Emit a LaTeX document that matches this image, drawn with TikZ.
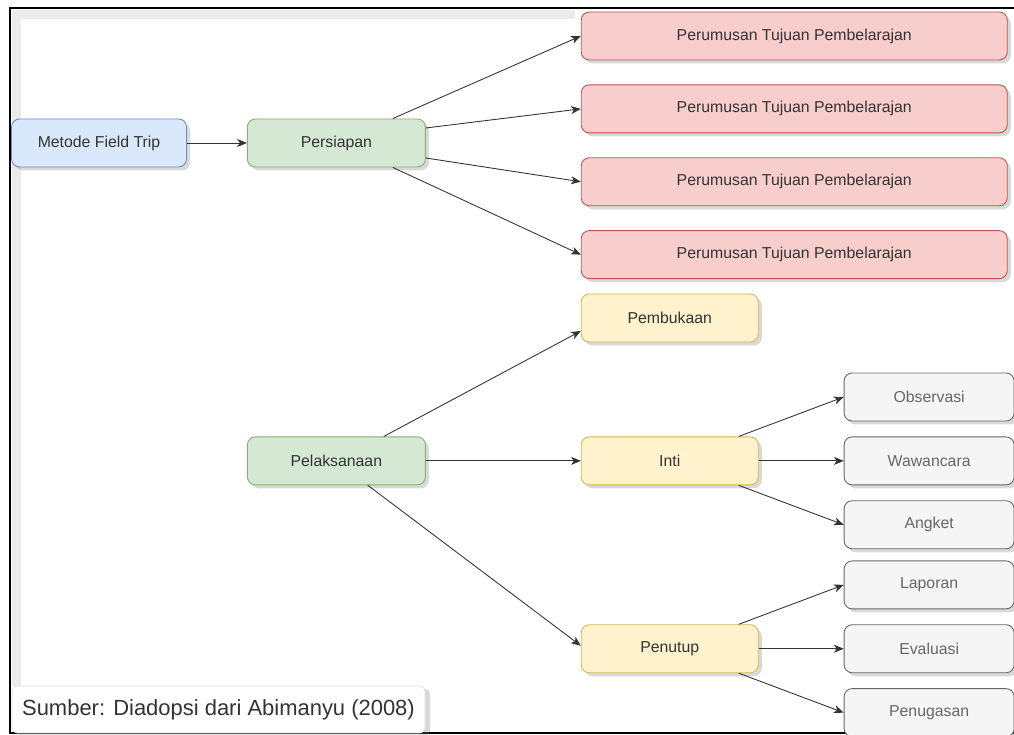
\documentclass[tikz,border=0pt]{standalone}
\usepackage{fontspec}
\setmainfont{Liberation Sans}
\usetikzlibrary{shapes,shadows,arrows.meta,positioning}
\definecolor{blueFill}{HTML}{DAE8FC}
\definecolor{blueLine}{HTML}{6C8EBF}
\definecolor{greenFill}{HTML}{D5E8D4}
\definecolor{greenLine}{HTML}{82B366}
\definecolor{redFill}{HTML}{F8CECC}
\definecolor{redLine}{HTML}{B85450}
\definecolor{yellowFill}{HTML}{FFF2CC}
\definecolor{yellowLine}{HTML}{D6B656}
\definecolor{greyFill}{HTML}{F5F5F5}
\definecolor{greyLine}{HTML}{666666}
\definecolor{textGrey}{HTML}{333333}
\tikzstyle{box} = [rectangle, rounded corners=0.16cm, minimum height=0.96cm, text centered, line width=0.5pt, text=textGrey, font=\fontsize{9}{11}\selectfont, drop shadow={shadow xshift=0.07cm, shadow yshift=-0.07cm, opacity=0.3}]
\tikzstyle{methodBox} = [box, minimum width=3.5cm, draw=blueLine, fill=blueFill]
\tikzstyle{phaseBox} = [box, minimum width=3.56cm, draw=greenLine, fill=greenFill]
\tikzstyle{goalBox} = [box, minimum width=8.52cm, draw=redLine, fill=redFill]
\tikzstyle{stageBox} = [box, minimum width=3.54cm, draw=yellowLine, fill=yellowFill]
\tikzstyle{activityBox} = [box, minimum width=3.4cm, draw=greyLine, fill=greyFill, text=greyLine]
\tikzstyle{sourceBox} = [rectangle, rounded corners=0.1cm, minimum width=8.26cm, minimum height=0.94cm, draw=gray!25, fill=white, text=textGrey, font=\fontsize{12.5}{15}\selectfont, drop shadow={shadow xshift=0.1cm, shadow yshift=-0.06cm, opacity=0.3}]
\tikzstyle{flowArrow} = [line width=0.5pt, draw=textGrey, -{Stealth[length=5.5pt,width=4.5pt,inset=1.5pt]}]

\begin{document}
\begin{tikzpicture}
		\useasboundingbox (0,0) rectangle (20.28,-14.7);
		%frame
		\fill[gray!16] (0.24,-0.2) rectangle (0.42,-13.72);
		\fill[gray!16] (0.24,-0.2) rectangle (11.5,-0.38);
		\draw[line width=1.1pt] (20.28,-0.16) -- (0.2,-0.16) -- (0.2,-14.66) -- (20.28,-14.66);

		%blocks
		\node[methodBox] (method) at (1.98,-2.86) {Metode Field Trip};
		\node[phaseBox, right=1.2cm of method] (prep) {Persiapan};
		\node[goalBox, right=3.1cm of prep, yshift=2.14cm] (goal1) {Perumusan Tujuan Pembelarajan};
		\node[goalBox, below=0.48cm of goal1] (goal2) {Perumusan Tujuan Pembelarajan};
		\node[goalBox, below=0.48cm of goal2] (goal3) {Perumusan Tujuan Pembelarajan};
		\node[goalBox, below=0.48cm of goal3] (goal4) {Perumusan Tujuan Pembelarajan};

		\node[phaseBox, below=5.38cm of prep] (impl) {Pelaksanaan};
		\node[stageBox, right=3.1cm of impl] (core) {Inti};
		\node[stageBox, above=1.88cm of core] (open) {Pembukaan};
		\node[stageBox, below=2.78cm of core] (close) {Penutup};

		\node[activityBox, right=1.7cm of core] (interview) {Wawancara};
		\node[activityBox, above=0.3cm of interview] (observe) {Observasi};
		\node[activityBox, below=0.3cm of interview] (survey) {Angket};
		\node[activityBox, right=1.7cm of close] (evaluate) {Evaluasi};
		\node[activityBox, above=0.3cm of evaluate] (report) {Laporan};
		\node[activityBox, below=0.3cm of evaluate] (assign) {Penugasan};

		\node[sourceBox] (source) at (4.37,-14.19) {Sumber: Diadopsi dari Abimanyu (2008)};

		%arrows
		\draw[flowArrow] (method) -- (prep);
		\draw[flowArrow] ([xshift=-0.66cm]prep.north east) -- (goal1.west);
		\draw[flowArrow] ([yshift=0.3cm]prep.east) -- (goal2.west);
		\draw[flowArrow] ([yshift=-0.3cm]prep.east) -- (goal3.west);
		\draw[flowArrow] ([xshift=-0.66cm]prep.south east) -- (goal4.west);

		\draw[flowArrow] ([xshift=-0.84cm]impl.north east) -- ([yshift=-0.26cm]open.west);
		\draw[flowArrow] (impl) -- (core);
		\draw[flowArrow] ([xshift=-1.16cm]impl.south east) -- ([yshift=0.06cm]close.west);

		\draw[flowArrow] ([xshift=-0.4cm]core.north east) -- (observe.west);
		\draw[flowArrow] (core) -- (interview);
		\draw[flowArrow] ([xshift=-0.4cm]core.south east) -- (survey.west);
		\draw[flowArrow] ([xshift=-0.4cm]close.north east) -- (report.west);
		\draw[flowArrow] (close) -- (evaluate);
		\draw[flowArrow] ([xshift=-0.4cm]close.south east) -- (assign.west);
\end{tikzpicture}
\end{document}
